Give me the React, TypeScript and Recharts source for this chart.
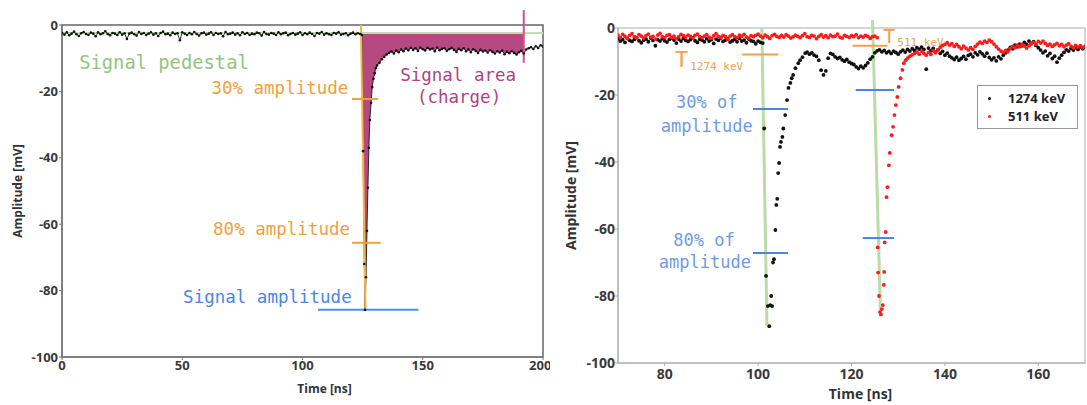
import {
  Area,
  ComposedChart,
  Legend,
  Line,
  ReferenceArea,
  ReferenceDot,
  ReferenceLine,
  Scatter,
  ScatterChart,
  XAxis,
  YAxis,
} from 'recharts'

// ---------- left panel: single waveform ----------
// samples every 1 ns, t = 0 .. 124
const leftPedestal = [
  -2.4, -2.9, -2.2, -3.1, -2.6, -2.0, -2.8, -3.3, -2.5, -2.1,
  -2.7, -3.0, -2.3, -2.6, -3.4, -2.2, -2.8, -2.5, -1.9, -2.7,
  -3.1, -2.4, -2.6, -3.0, -2.2, -2.9, -2.5, -4.2, -2.6, -2.3,
  -2.8, -3.2, -2.1, -2.7, -2.4, -3.0, -2.6, -2.2, -2.9, -2.5,
  -3.3, -2.4, -2.0, -2.8, -2.6, -3.1, -2.3, -2.7, -2.5, -4.6,
  -2.2, -2.6, -3.0, -2.4, -2.8, -2.1, -2.7, -3.2, -2.5, -2.3,
  -2.9, -2.6, -2.2, -3.0, -2.4, -2.7, -2.5, -3.4, -2.1, -2.8,
  -2.6, -2.3, -2.9, -2.5, -3.1, -2.2, -2.7, -2.4, -3.0, -2.6,
  -2.8, -2.3, -2.5, -3.2, -2.1, -2.7, -2.9, -2.4, -2.6, -3.0,
  -2.2, -2.8, -2.5, -2.3, -3.1, -2.7, -2.4, -2.9, -2.6, -2.2,
  -3.0, -2.5, -2.8, -2.3, -2.7, -3.3, -2.4, -2.6, -2.1, -2.9,
  -2.5, -2.8, -3.0, -2.4, -2.6, -2.2, -2.9, -2.7, -2.5, -3.1,
  -2.6, -2.3, -2.8, -2.5, -2.7,
]
// fast edge
const leftEdgeT = [124.7, 125.2, 125.7, 126.0, 126.4, 126.8, 127.2, 127.6, 128.0, 128.5, 129.0, 129.5, 130.0, 130.5, 131.0, 132.0, 133.0, 134.0, 135.0]
const leftEdgeV = [-3.0, -38, -72, -85.8, -76, -62, -49, -37, -28.6, -23.5, -18.7, -16.2, -14.5, -13.0, -12.2, -11.4, -10.3, -9.6, -8.9]
// t = 136 .. 200
const leftTail = [
  -8.4, -8.0, -8.6, -7.7, -8.2, -7.4, -7.9, -7.1, -7.6, -6.9,
  -7.5, -7.0, -7.8, -6.8, -7.3, -7.7, -6.9, -7.4, -7.1, -7.9,
  -6.8, -7.6, -7.2, -7.0, -7.8, -7.3, -6.9, -7.5, -8.1, -7.2,
  -7.6, -7.0, -7.9, -7.4, -8.2, -7.3, -7.8, -8.4, -7.5, -8.0,
  -7.7, -8.3, -7.6, -8.1, -8.6, -7.9, -8.3, -7.7, -8.8, -8.1,
  -8.5, -7.9, -8.4, -8.9, -8.2, -7.8, -8.6, -7.4, -7.0, -6.7,
  -7.2, -6.4, -6.9, -6.1, -6.5,
]
const leftXTicks = [0, 50, 100, 150, 200]
const yTicks = [0, -20, -40, -60, -80, -100]

const PEDESTAL = -2.4
const CHARGE_START = 124.7
const CHARGE_END = 192

const leftData = [
  ...leftPedestal.map((v, i) => ({ t: i, v })),
  ...leftEdgeT.map((t, i) => ({ t, v: leftEdgeV[i] })),
  ...leftTail.map((v, i) => ({ t: 136 + i, v })),
].map((d) => ({
  ...d,
  band: d.t >= CHARGE_START && d.t <= CHARGE_END ? [PEDESTAL, d.v] : null,
}))

// ---------- right panel: two waveforms, 0.5 ns samples ----------
const black1274Pre = [
  -3.2, -3.9, -3.5, -4.3, -3.1, -3.7, -4.0, -3.4, -2.9, -3.8,
  -4.4, -3.6, -3.3, -4.1, -3.0, -3.7, -5.3, -3.5, -3.9, -3.2,
  -3.8, -4.2, -3.4, -3.0, -3.6, -4.5, -3.3, -3.9, -3.1, -3.7,
  -4.0, -3.5, -2.9, -3.8, -4.3, -3.4, -3.6, -4.1, -3.2, -3.9,
  -3.5, -4.6, -3.3, -3.7, -3.0, -4.0, -3.6, -3.2, -4.2, -3.8,
  -3.4, -4.1, -3.1, -3.9, -3.6, -4.4, -3.3, -3.8, -4.0, -4.7,
  -3.9, -4.3,
]
const black1274EdgeT = [101.0, 101.3, 101.7, 102.1, 102.4, 102.6, 102.8, 103.0, 103.2, 103.4, 103.7, 103.9, 104.1, 104.3, 104.5, 104.7, 104.9, 105.2, 105.4, 105.8, 106.2, 106.5, 106.9, 107.2, 107.5, 108.0, 108.6, 109.0, 109.5, 110.1]
const black1274EdgeV = [-4.5, -30, -74, -83, -89, -82.7, -80, -83, -70, -69, -60.3, -52.8, -51, -43.3, -40.3, -35.5, -34, -32.5, -30, -26, -21.5, -17.9, -16.4, -15, -14, -12, -10.5, -9.6, -8.7, -7.5]
const black1274Post = [
  -7.2, -7.8, -7.4, -8.1, -8.5, -9.6, -12.6, -14.0, -12.8, -9.0,
  -7.6, -7.9, -8.6, -9.1, -8.8, -9.5, -9.9, -9.4, -10.2, -10.6,
  -10.9, -11.6, -12.1, -11.4, -11.9, -11.2, -10.4, -9.3, -8.6, -7.4,
  -6.8, -6.5, -7.1, -6.7, -7.4, -7.0, -7.6, -6.9, -7.3, -7.8,
  -7.1, -6.6, -7.2, -6.4, -6.9, -6.2, -6.7, -5.9, -6.3, -5.7,
  -6.4, -12.3, -6.0, -6.8, -6.1, -7.2, -6.5, -7.6, -7.0, -8.1,
  -7.5, -8.4, -8.9, -9.4, -8.7, -9.6, -9.1, -8.5, -9.3, -8.2,
  -7.8, -8.6, -7.4, -8.0, -7.1, -7.7, -8.4, -7.5, -8.8, -9.5,
  -8.9, -9.8, -8.6, -9.2, -8.1, -7.4, -6.6, -5.8, -6.2, -5.1,
  -5.6, -4.8, -5.3, -4.3, -4.9, -3.9, -4.6, -4.1, -5.2, -5.9,
  -6.6, -7.4, -6.9, -8.3, -7.6, -9.1, -8.4, -10.2, -9.0, -8.1,
  -7.3, -6.5, -6.9, -6.1, -6.6, -5.9, -6.4, -5.7, -6.2, -5.8,
]
const red511Pre = [
  -2.1, -2.8, -1.9, -2.5, -3.1, -2.2, -1.7, -2.6, -2.9, -2.0,
  -2.4, -3.0, -2.3, -1.8, -2.7, -2.5, -3.3, -2.1, -1.6, -2.6,
  -2.9, -2.2, -2.0, -2.8, -2.4, -3.2, -2.6, -1.9, -2.3, -2.7,
  -2.1, -2.5, -3.0, -2.2, -1.8, -2.6, -2.9, -2.4, -2.0, -2.7,
  -3.1, -2.3, -1.7, -2.5, -2.8, -2.2, -2.6, -3.4, -2.4, -2.0,
  -2.6, -2.9, -2.1, -2.5, -1.9, -2.7, -3.0, -2.3, -2.6, -2.2,
  -1.8, -2.4, -2.9, -2.1, -2.6, -3.1, -2.3, -1.9, -2.5, -2.8,
  -2.2, -2.7, -2.0, -2.4, -3.0, -2.6, -2.1, -2.5, -2.9, -2.3,
  -1.7, -2.6, -2.8, -2.2, -2.4, -3.2, -2.5, -2.0, -2.7, -2.3,
  -2.9, -2.1, -2.6, -2.4, -1.8, -2.7, -3.0, -2.2, -2.5, -2.8,
  -2.3, -2.6, -2.0, -2.9, -2.4, -2.7, -2.2, -2.5, -3.1, -2.6,
  -2.4, -2.9,
]
const red511EdgeT = [125.6, 125.7, 125.9, 126.1, 126.3, 126.5, 126.7, 126.9, 127.0, 127.1, 127.3, 127.5, 127.7, 128.0, 128.2, 128.6, 128.9, 129.2, 129.5, 129.8, 130.1, 130.5, 130.9, 131.2, 131.6, 132.0, 132.5, 133.0, 133.5]
const red511EdgeV = [-65.5, -73, -80, -84.8, -85.5, -83.9, -82.7, -76.7, -72.8, -64, -60.9, -50.5, -47.5, -41, -37.3, -32, -29.5, -26, -23, -20.6, -17.6, -15, -12.5, -10.5, -9.6, -9.0, -8.4, -8.0, -7.6]
const red511Post = [
  -7.2, -7.8, -6.9, -7.5, -8.1, -7.3, -7.9, -6.8, -7.4, -6.5,
  -5.8, -5.2, -4.9, -4.4, -5.1, -4.7, -5.5, -4.9, -5.6, -6.2,
  -5.4, -6.0, -6.6, -5.9, -6.4, -5.5, -4.8, -4.2, -4.6, -3.9,
  -4.3, -3.6, -4.1, -4.8, -5.6, -6.3, -6.9, -7.3, -6.7, -7.1,
  -6.2, -5.5, -5.9, -5.1, -5.6, -4.9, -5.4, -6.0, -5.3, -4.7,
  -4.3, -4.8, -4.0, -4.5, -3.9, -4.6, -5.2, -4.8, -5.5, -5.0,
  -4.6, -5.3, -4.9, -5.6, -5.1, -4.7, -5.4, -5.9, -5.2, -5.7,
  -5.3, -5.8, -5.5,
]
const rightXTicks = [80, 100, 120, 140, 160]

const black1274 = [
  ...black1274Pre.map((v, i) => ({ t: 70 + i * 0.5, v })),
  ...black1274EdgeT.map((t, i) => ({ t, v: black1274EdgeV[i] })),
  ...black1274Post.map((v, i) => ({ t: 110.5 + i * 0.5, v })),
]
const red511 = [
  ...red511Pre.map((v, i) => ({ t: 70 + i * 0.5, v })),
  ...red511EdgeT.map((t, i) => ({ t, v: red511EdgeV[i] })),
  ...red511Post.map((v, i) => ({ t: 134 + i * 0.5, v })),
]

const series = [
  { name: '1274 keV', color: '#111111', data: black1274 },
  { name: '511 keV', color: '#ff1a1a', data: red511 },
]

const MONO = '"DejaVu Sans Mono", monospace'
const SANS = '"Open Sans", sans-serif'

const tickStyle = (size: number) => ({
  fontFamily: SANS,
  fontSize: size,
  fontWeight: 700,
  fill: '#3a3a3a',
})

const hidden = { r: 0, fill: 'none', stroke: 'none' }

const note = (value: string, fill: string, size = 17.5) => ({
  value,
  position: 'center' as const,
  fill,
  fontSize: size,
  fontFamily: MONO,
})

const subLabel = (main: string, sub: string, color: string, mainSize: number) => (props: any) => {
  const vb = props.viewBox || {}
  return (
    <text x={vb.x} y={vb.y} fill={color} fontFamily={MONO}>
      <tspan fontSize={mainSize}>{main}</tspan>
      <tspan fontSize={11} dx={2} dy={3}>{sub}</tspan>
    </text>
  )
}

const dotShape = (color: string) => (props: any) => (
  <circle cx={props.cx} cy={props.cy} r={1.9} fill={color} />
)

function LeftPanel() {
  return (
    <ComposedChart
      width={550}
      height={405}
      data={leftData}
      margin={{ top: 25, right: 7, bottom: 0, left: 0 }}
    >
      <XAxis
        dataKey='t'
        type='number'
        domain={[0, 200]}
        ticks={leftXTicks}
        allowDataOverflow
        height={48}
        stroke='#777'
        tickSize={3}
        tickMargin={1}
        tick={tickStyle(13)}
        label={{ value: 'Time [ns]', position: 'insideBottom', offset: 12, dx: 22, fontFamily: SANS, fontSize: 12, fontWeight: 700, fill: '#333' }}
      />
      <YAxis
        type='number'
        domain={[-100, 0]}
        ticks={yTicks}
        allowDataOverflow
        width={62}
        stroke='#777'
        tickSize={3}
        tickMargin={1}
        tick={tickStyle(13)}
        label={{ value: 'Amplitude [mV]', angle: -90, position: 'insideLeft', offset: 18, style: { textAnchor: 'middle' }, fontFamily: SANS, fontSize: 12, fontWeight: 700, fill: '#333' }}
      />
      <ReferenceArea x1={0} x2={200} y1={-100} y2={0} fill='none' stroke='#666' strokeWidth={1.5} />
      <ReferenceLine y={PEDESTAL} stroke='#c4dbb8' strokeWidth={2} ifOverflow='visible' />
      <Area
        dataKey='band'
        type='linear'
        fill='#b03a74'
        fillOpacity={0.92}
        stroke='none'
        isAnimationActive={false}
      />
      <Line
        dataKey='v'
        type='linear'
        stroke='#1a1a1a'
        strokeWidth={0.9}
        dot={{ r: 1.3, fill: '#111', stroke: 'none' }}
        isAnimationActive={false}
      />
      <ReferenceLine segment={[{ x: 124.3, y: 0 }, { x: 126.2, y: -85.8 }]} stroke='#f4b63f' strokeWidth={2} ifOverflow='visible' />
      <ReferenceLine segment={[{ x: 120.6, y: -22.3 }, { x: 131.4, y: -22.3 }]} stroke='#f0a040' strokeWidth={2} ifOverflow='visible' />
      <ReferenceLine segment={[{ x: 120.6, y: -65.6 }, { x: 132.5, y: -65.6 }]} stroke='#f0a040' strokeWidth={2} ifOverflow='visible' />
      <ReferenceLine segment={[{ x: 106.4, y: -85.8 }, { x: 148.2, y: -85.8 }]} stroke='#4b90e6' strokeWidth={2} ifOverflow='visible' />
      <ReferenceLine segment={[{ x: 192, y: 4.5 }, { x: 192, y: -11.4 }]} stroke='#c4588a' strokeWidth={2} ifOverflow='visible' />
      <ReferenceDot x={42.4} y={-11.1} {...hidden} label={note('Signal pedestal', '#93c57f', 18.8)} />
      <ReferenceDot x={90.6} y={-19.0} {...hidden} label={note('30% amplitude', '#f0a040')} />
      <ReferenceDot x={91.3} y={-61.4} {...hidden} label={note('80% amplitude', '#f0a040')} />
      <ReferenceDot x={85.4} y={-82.0} {...hidden} label={note('Signal amplitude', '#4b86e0')} />
      <ReferenceDot x={164.7} y={-15.1} {...hidden} label={note('Signal area', '#b0447a')} />
      <ReferenceDot x={165.1} y={-21.7} {...hidden} label={note('(charge)', '#b0447a')} />
    </ComposedChart>
  )
}

function LegendBox() {
  return (
    <div
      style={{
        border: '1px solid #999',
        background: '#fff',
        padding: '3px 0 3px 10px',
        fontFamily: SANS,
        fontWeight: 700,
        fontSize: 13,
        color: '#222',
        lineHeight: '18px',
        boxSizing: 'border-box',
        width: 101,
      }}
    >
      {series.map((s) => (
        <div key={s.name} style={{ display: 'flex', alignItems: 'center' }}>
          <span style={{ width: 3, height: 3, borderRadius: 2, background: s.color, marginRight: 17 }} />
          {s.name}
        </div>
      ))}
    </div>
  )
}

function RightPanel() {
  return (
    <ScatterChart width={537} height={405} margin={{ top: 28, right: 2, bottom: 0, left: 0 }}>
      <XAxis
        dataKey='t'
        type='number'
        domain={[70, 170]}
        ticks={rightXTicks}
        allowDataOverflow
        height={42}
        stroke='#aaa'
        tickSize={3}
        tickMargin={3}
        tick={tickStyle(14)}
        label={{ value: 'Time [ns]', position: 'insideBottom', offset: 6, dx: 9, fontFamily: SANS, fontSize: 14, fontWeight: 700, fill: '#333' }}
      />
      <YAxis
        dataKey='v'
        type='number'
        domain={[-100, 0]}
        ticks={yTicks}
        allowDataOverflow
        width={68}
        stroke='#aaa'
        tickSize={3}
        tickMargin={0}
        tick={tickStyle(14)}
        label={{ value: 'Amplitude [mV]', angle: -90, position: 'insideLeft', offset: 21, style: { textAnchor: 'middle' }, fontFamily: SANS, fontSize: 14, fontWeight: 700, fill: '#333' }}
      />
      <ReferenceArea x1={70} x2={170} y1={-100} y2={0} fill='none' stroke='#c8c8c8' strokeWidth={1.5} />
      <ReferenceLine segment={[{ x: 100.8, y: 0 }, { x: 101.9, y: -89 }]} stroke='#b9dca8' strokeWidth={3} ifOverflow='visible' />
      <ReferenceLine segment={[{ x: 124.5, y: 2.4 }, { x: 126.2, y: -85 }]} stroke='#b9dca8' strokeWidth={3} ifOverflow='visible' />
      <ReferenceDot x={82.2} y={-11.6} {...hidden} label={subLabel('T', '1274 keV', '#f0a050', 22)} />
      <ReferenceDot x={126.8} y={-4.6} {...hidden} label={subLabel('T', '511 keV', '#f0a050', 20)} />
      <ReferenceDot x={89.0} y={-22.1} {...hidden} label={note('30% of', '#6f9be6', 17)} />
      <ReferenceDot x={89.0} y={-29.3} {...hidden} label={note('amplitude', '#6f9be6', 17)} />
      <ReferenceDot x={88.4} y={-63.3} {...hidden} label={note('80% of', '#6f9be6', 17)} />
      <ReferenceDot x={88.6} y={-69.9} {...hidden} label={note('amplitude', '#6f9be6', 17)} />
      {series.map((s) => (
        <Scatter
          key={s.name}
          name={s.name}
          data={s.data}
          dataKey='v'
          fill={s.color}
          shape={dotShape(s.color)}
          isAnimationActive={false}
        />
      ))}
      <ReferenceLine segment={[{ x: 96.6, y: -7.9 }, { x: 104.3, y: -7.9 }]} stroke='#f0a050' strokeWidth={2} ifOverflow='visible' />
      <ReferenceLine segment={[{ x: 120.2, y: -5.3 }, { x: 127.7, y: -5.3 }]} stroke='#f0a050' strokeWidth={2} ifOverflow='visible' />
      <ReferenceLine segment={[{ x: 98.9, y: -24.2 }, { x: 106.4, y: -24.2 }]} stroke='#4a86e0' strokeWidth={2} ifOverflow='visible' />
      <ReferenceLine segment={[{ x: 120.9, y: -18.5 }, { x: 129.1, y: -18.5 }]} stroke='#4a86e0' strokeWidth={2} ifOverflow='visible' />
      <ReferenceLine segment={[{ x: 98.9, y: -67.2 }, { x: 106.4, y: -67.2 }]} stroke='#4a86e0' strokeWidth={2} ifOverflow='visible' />
      <ReferenceLine segment={[{ x: 122.4, y: -62.7 }, { x: 129.1, y: -62.7 }]} stroke='#4a86e0' strokeWidth={2} ifOverflow='visible' />
      <Legend
        layout='vertical'
        align='center'
        verticalAlign='middle'
        content={() => <LegendBox />}
        wrapperStyle={{ left: 427, top: 85, width: 101, height: 'auto' }}
      />
    </ScatterChart>
  )
}

export default function App() {
  return (
    <div style={{ position: 'absolute', left: 0, top: 0, width: 1087, height: 405, background: '#fff' }}>
      <div style={{ position: 'absolute', left: 0, top: 0 }}>
        <LeftPanel />
      </div>
      <div style={{ position: 'absolute', left: 550, top: 0 }}>
        <RightPanel />
      </div>
    </div>
  )
}
